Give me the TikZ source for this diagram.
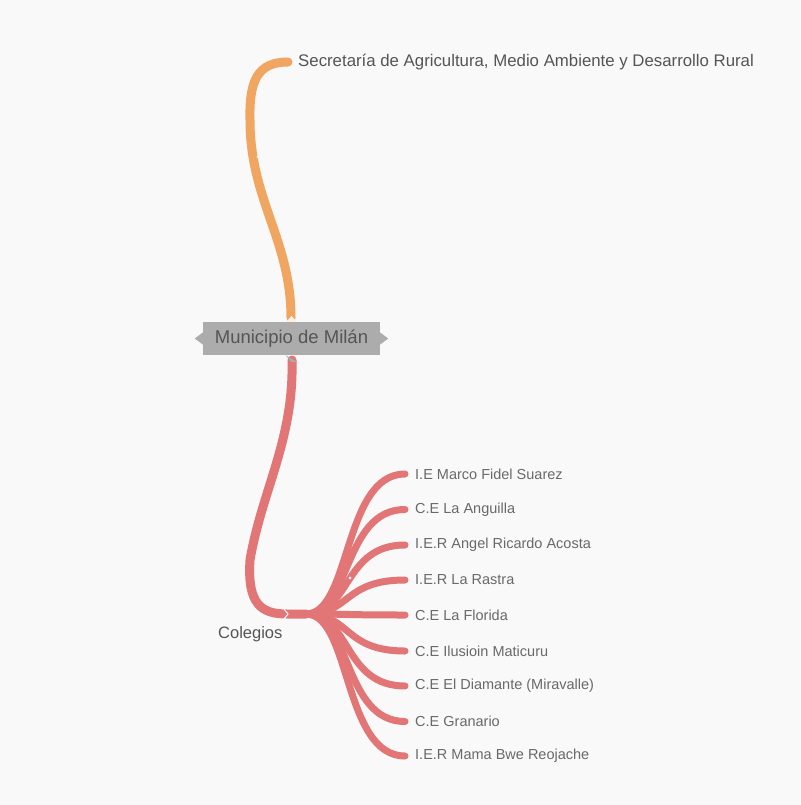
\documentclass[tikz,border=0pt]{standalone}
\usepackage{fontspec}
\setmainfont{Liberation Sans}
\definecolor{bgc}{RGB}{249,249,249}
\definecolor{orangeb}{RGB}{240,165,96}
\definecolor{redb}{RGB}{226,118,118}
\definecolor{boxc}{RGB}{172,172,172}
\definecolor{txtc}{RGB}{85,85,85}
\definecolor{leafc}{RGB}{105,105,105}
\tikzset{
  mainbranch/.style={line width=9pt, line cap=round},
  leafbranch/.style={line width=7pt, line cap=round, draw=redb},
  leaftext/.style={anchor=west, inner sep=0pt, text=leafc, font=\fontsize{14.5}{16}\selectfont},
  toptext/.style={anchor=west, inner sep=0pt, text=txtc, font=\fontsize{16.8}{19}\selectfont},
  rootbox/.style={fill=boxc, text=txtc, inner sep=0pt, minimum width=177pt, minimum height=33pt, font=\fontsize{18.5}{20}\selectfont},
  knob/.style={fill=white, draw=none, opacity=0.8}
}
\begin{document}
\begin{tikzpicture}[x=1pt,y=-1pt]
\fill[bgc] (0,0) rectangle (800,805);
\useasboundingbox (0,0) rectangle (800,805);

% coordinates
\coordinate (rootT) at (291,318);
\coordinate (rootB) at (292,360);
\coordinate (secE) at (288,62);
\coordinate (colJ) at (287,614);
\coordinate (hub) at (306,614);
\foreach \i/\y in {1/474,2/509.5,3/545,4/580,5/615,6/651,7/686,8/721.5,9/756}{
  \coordinate (c\i) at (405,\y);
}

% orange branch
\draw[mainbranch, draw=orangeb] (rootT) .. controls (291,240) and (250,200) .. (250,120)
   .. controls (249,80) and (258,62) .. (secE);

% red main branch
\draw[mainbranch, draw=redb] (rootB) .. controls (294,440) and (262,490) .. (250,560)
   .. controls (247,605) and (262,614) .. (colJ) -- (hub);

% leaf branches
\foreach \i in {1,...,9}{
  \draw[leafbranch] (hub) .. controls +(45,0) and +(-62,0) .. (c\i);
}

% root node
\node[rootbox] (root) at (291.5,338.5) {Municipio de Milán};
\fill[boxc] (root.west) ++(0,-6) -- ++(-8,6) -- ++(8,6) -- cycle;
\fill[boxc] (root.east) ++(0,-6) -- ++(8,6) -- ++(-8,6) -- cycle;
\fill[boxc] (root.south) ++(-6,0) -- ++(6,7) -- ++(6,0) -- cycle;
\fill[white!85!orangeb] (root.north) ++(-5,0) -- ++(5,-6) -- ++(5,6) -- cycle;

% small markers
\fill[knob] (258,157) circle (1.6);
\fill[knob] (350,578) circle (1.6);
\draw[white, line width=1pt] (colJ) ++(-3,-5) -- ++(4,5) -- ++(-4,5);

% texts
\node[toptext] (sec) at (298,62) {Secretaría de Agricultura, Medio Ambiente y Desarrollo Rural};
\node[anchor=north west, inner sep=0pt, text=txtc, font=\fontsize{16.5}{18}\selectfont] (col) at (218,626) {Colegios};

\node[leaftext] (t1) at (415,474) {I.E Marco Fidel Suarez};
\node[leaftext] (t2) at (415,509.5) {C.E La Anguilla};
\node[leaftext] (t3) at (415,545) {I.E.R Angel Ricardo Acosta};
\node[leaftext] (t4) at (415,580) {I.E.R La Rastra};
\node[leaftext] (t5) at (415,615) {C.E La Florida};
\node[leaftext] (t6) at (415,651) {C.E Ilusioin Maticuru};
\node[leaftext] (t7) at (415,686) {C.E El Diamante (Miravalle)};
\node[leaftext] (t8) at (415,721.5) {C.E Granario};
\node[leaftext] (t9) at (415,756) {I.E.R Mama Bwe Reojache};
\end{tikzpicture}
\end{document}
